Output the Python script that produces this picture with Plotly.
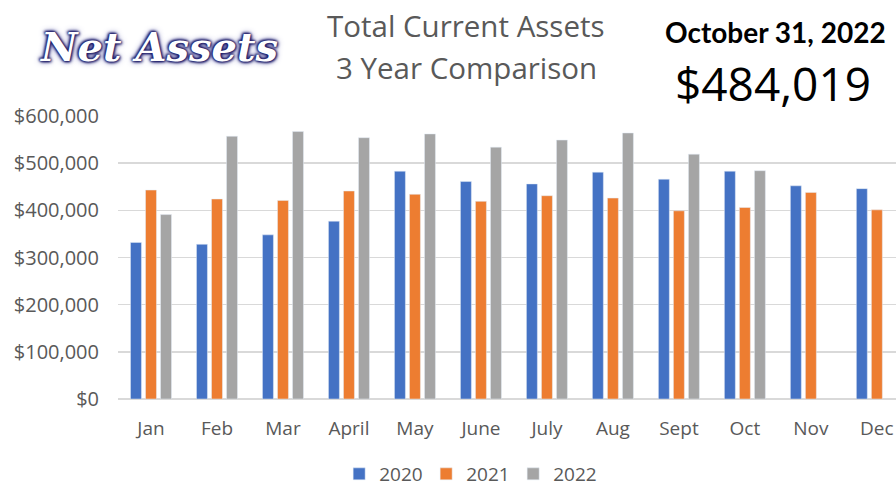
import plotly.graph_objects as go

months = ["Jan", "Feb", "Mar", "April", "May", "June", "July", "Aug", "Sept", "Oct", "Nov", "Dec"]
y2020 = [332000, 328000, 348000, 377000, 483000, 461000, 456000, 481000, 466000, 483000, 452000, 446000]
y2021 = [443000, 424000, 421000, 441000, 434000, 419000, 431000, 426000, 399000, 406000, 438000, 401000]
y2022 = [391000, 557000, 567000, 554000, 562000, 534000, 549000, 564000, 519000, 484019, None, None]
yticks = [0, 100000, 200000, 300000, 400000, 500000, 600000]
ytick_text = ["$0", "$100,000", "$200,000", "$300,000", "$400,000", "$500,000", "$600,000"]

FONT = "Open Sans"
GRAY_TXT = "#595959"

fig = go.Figure()
fig.add_bar(x=months, y=y2020, name="2020", marker_color="#4472C4")
fig.add_bar(x=months, y=y2021, name="2021", marker_color="#ED7D31")
fig.add_bar(x=months, y=y2022, name="2022", marker_color="#A5A5A5")

fig.update_layout(
    width=896, height=494,
    margin=dict(l=118, r=0, t=116, b=95, autoexpand=False),
    paper_bgcolor="white", plot_bgcolor="white",
    barmode="group", bargap=0.317, bargroupgap=0.27,
    font=dict(family=FONT, color=GRAY_TXT, size=19),
    showlegend=True,
    legend=dict(orientation="h", x=0.452, xanchor="center", y=-0.265, yanchor="middle",
                font=dict(size=19, color=GRAY_TXT), itemwidth=30, traceorder="normal",
                entrywidth=42, entrywidthmode="pixels"),
    xaxis=dict(range=[-0.5, 11.29], showgrid=False, ticks="", showline=False, automargin=False,
               ticklabelstandoff=16, tickfont=dict(size=19, color=GRAY_TXT)),
    yaxis=dict(range=[0, 600000], tickvals=yticks, ticktext=ytick_text, automargin=False,
               showgrid=True, gridcolor="#D9D9D9", gridwidth=1.5, zeroline=True,
               zerolinecolor="#D9D9D9", zerolinewidth=1.5, ticks="",
               ticklabelstandoff=18, tickfont=dict(size=20, color=GRAY_TXT)),
    hovermode=False,
)

fig.add_annotation(text="Total Current Assets", xref="paper", yref="paper", x=0, y=1.0,
                   xanchor="center", yanchor="middle", xshift=466 - 118, yshift=116 - 25,
                   showarrow=False, font=dict(size=29.5, color=GRAY_TXT, family=FONT))
fig.add_annotation(text="3 Year Comparison", xref="paper", yref="paper", x=0, y=1.0,
                   xanchor="center", yanchor="middle", xshift=466 - 118, yshift=116 - 67,
                   showarrow=False, font=dict(size=29.5, color=GRAY_TXT, family=FONT))
fig.add_annotation(text="<b><i>Net Assets</i></b>", xref="paper", yref="paper", x=0, y=1.0,
                   xanchor="center", yanchor="middle", xshift=158 - 118, yshift=116 - 46,
                   showarrow=False,
                   font=dict(size=40, color="white", family="DejaVu Serif",
                             shadow="0 0 2px #1b1a66, 0 0 3px #1b1a66, 1px 1px 3px #1b1a66, -1px -1px 3px #1b1a66, 0 0 6px #3a3a99"))
fig.add_annotation(text="<b>October 31, 2022</b>", xref="paper", yref="paper", x=0, y=1.0,
                   xanchor="center", yanchor="middle", xshift=775 - 118, yshift=116 - 32,
                   showarrow=False, font=dict(size=28, color="black", family="Lato"))
fig.add_annotation(text="$484,019", xref="paper", yref="paper", x=0, y=1.0,
                   xanchor="center", yanchor="middle", xshift=773 - 118, yshift=116 - 83,
                   showarrow=False, font=dict(size=46, color="black", family=FONT))

fig.write_html("out.html", config={"displayModeBar": False, "staticPlot": True},
               post_script="document.body.style.margin='0';document.body.style.overflow='hidden';")
